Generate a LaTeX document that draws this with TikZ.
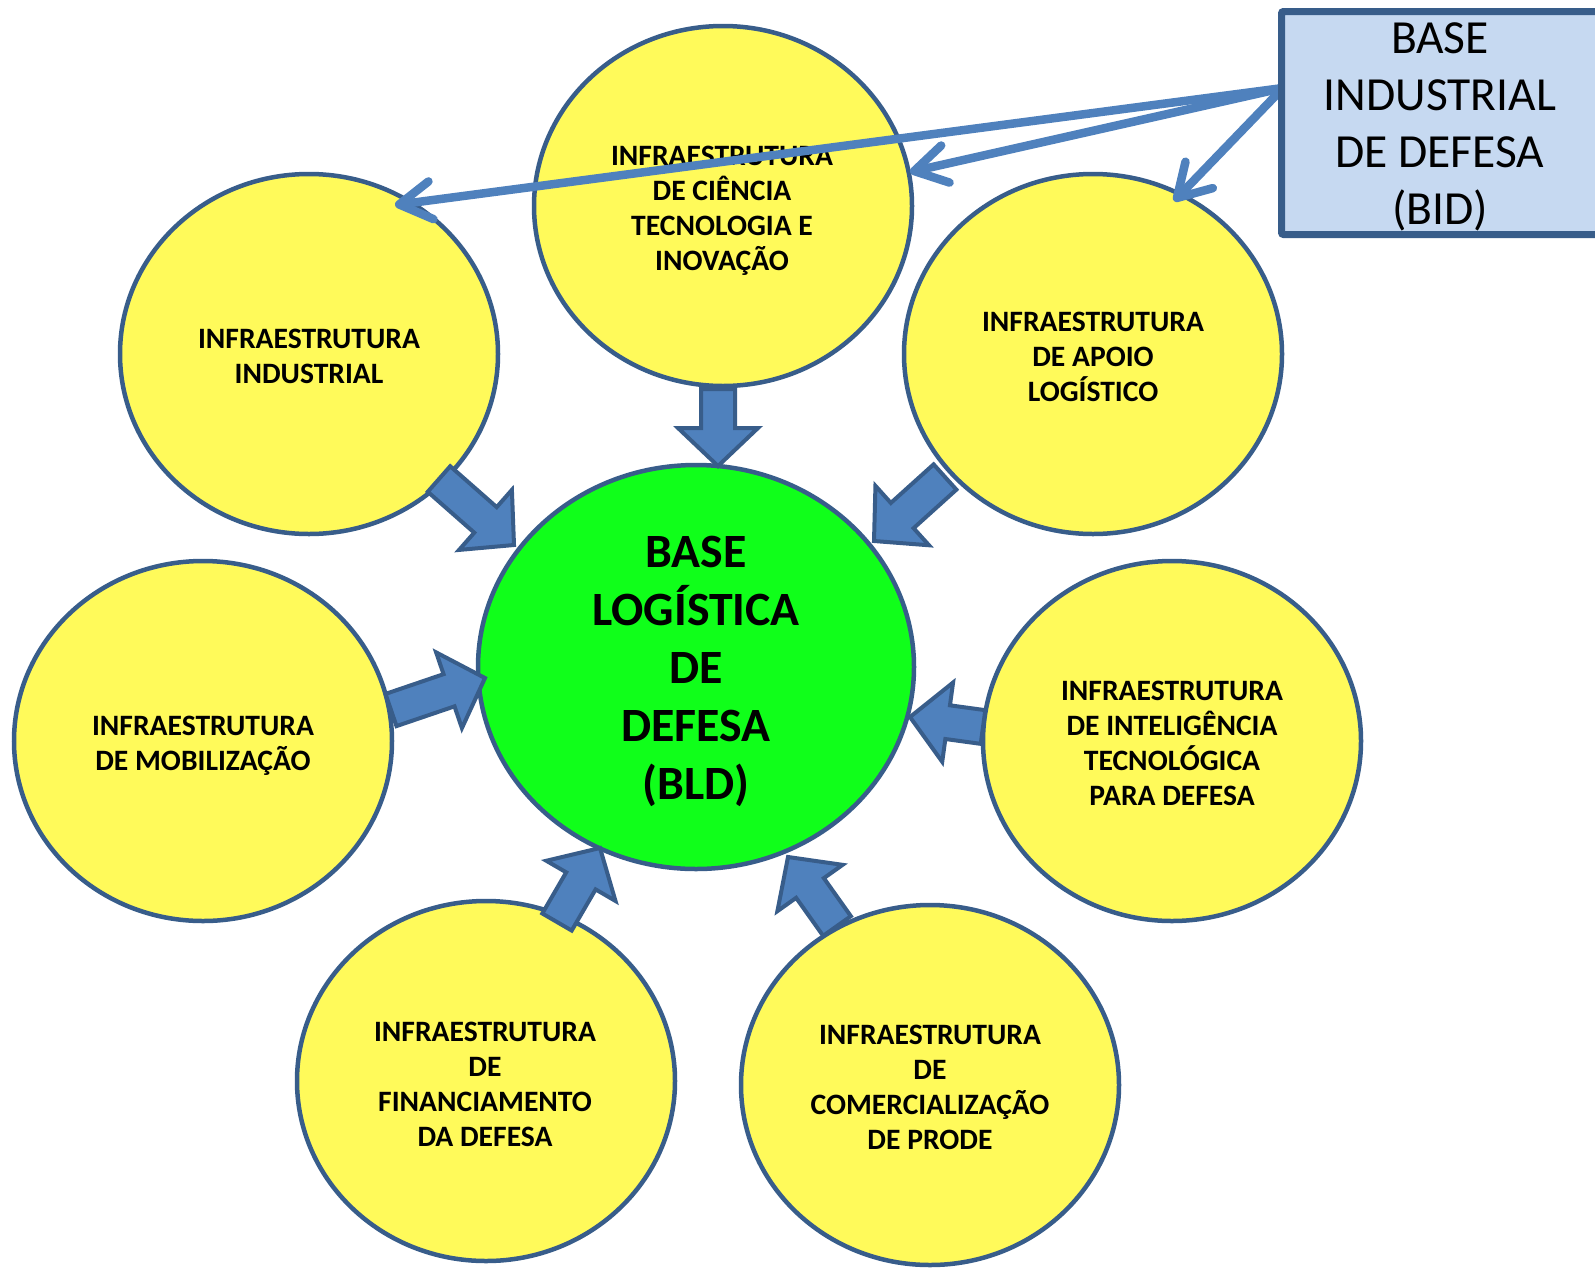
\documentclass[tikz,border=0pt]{standalone}
\usepackage{fontspec}
\setmainfont{Carlito}
\usetikzlibrary{shapes.geometric,arrows.meta,calc}
\definecolor{yel}{RGB}{255,250,90}
\definecolor{grn}{RGB}{16,255,26}
\definecolor{edgec}{RGB}{56,93,138}
\definecolor{arrc}{RGB}{79,129,189}
\definecolor{boxfill}{RGB}{198,217,241}
\newcommand\fatarrow[2]{%
  \path ($(#2)!38pt!(#1)$) coordinate (hb);
  \draw[fatstyle] ($(#1)!17pt!90:(#2)$) -- ($(hb)!17pt!90:(#2)$) -- ($(hb)!40pt!90:(#2)$)
    -- (#2) -- ($(hb)!40pt!-90:(#2)$) -- ($(hb)!17pt!-90:(#2)$) -- ($(#1)!17pt!-90:(#2)$) -- cycle;
}
\begin{document}
\begin{tikzpicture}[x=1pt,y=-1pt,
  yc/.style={ellipse, draw=edgec, line width=4.5pt, fill=yel, minimum width=378pt, minimum height=360pt, inner sep=0pt},
  gc/.style={ellipse, draw=edgec, line width=4.5pt, fill=grn, minimum width=436pt, minimum height=404pt, inner sep=0pt},
  lbl/.style={align=center, inner sep=0pt, font=\fontsize{29.6}{35}\selectfont\bfseries},
  biglbl/.style={align=center, inner sep=0pt, font=\fontsize{47.8}{58}\selectfont\bfseries},
  fatstyle/.style={fill=arrc, draw=edgec, line width=4pt, line join=miter},
  bidline/.style={draw=arrc, line width=8.5pt, line cap=round, -{Straight Barb[length=32pt,width=38pt,round]}}
]
\useasboundingbox (0,0) rectangle (1595,1267);
\fill[white] (0,0) rectangle (1595,1267);

% yellow circles
\node[yc] (cT) at (723,206) {};
\node[yc] (cI) at (309,354) {};
\node[yc] (cA) at (1093,354) {};
\node[yc] (cM) at (203,741) {};
\node[yc] (cN) at (1172,741) {};
\node[yc] (cF) at (486,1081) {};
\node[yc] (cC) at (930,1085) {};

\node[lbl] (tT) at (722,211) {INFRAESTRUTURA\\DE CIÊNCIA\\TECNOLOGIA E\\INOVAÇÃO};
\node[lbl] (tI) at (309,356.5) {INFRAESTRUTURA\\INDUSTRIAL};
\node[lbl] (tA) at (1093,356.5) {INFRAESTRUTURA\\DE APOIO\\LOGÍSTICO};
\node[lbl] (tM) at (203,746) {INFRAESTRUTURA\\DE MOBILIZAÇÃO};
\node[lbl] (tN) at (1172,743.5) {INFRAESTRUTURA\\DE INTELIGÊNCIA\\TECNOLÓGICA\\PARA DEFESA};
\node[lbl] (tF) at (485,1084.5) {INFRAESTRUTURA\\DE\\FINANCIAMENTO\\DA DEFESA};
\node[lbl] (tC) at (930,1087.5) {INFRAESTRUTURA\\DE\\COMERCIALIZAÇÃO\\DE PRODE};

% green centre
\node[gc] (bld) at (696,667) {};
\node[biglbl] (tB) at (696,671) {BASE\\LOGÍSTICA\\DE\\DEFESA\\(BLD)};

% block arrows
\coordinate (aT1) at (718,389);  \coordinate (aT2) at (718,466);
\coordinate (aI1) at (439,479);  \coordinate (aI2) at (514,545);
\coordinate (aA1) at (945,477);  \coordinate (aA2) at (874,541);
\coordinate (aM1) at (391,710);  \coordinate (aM2) at (485,678);
\coordinate (aN1) at (983,727);  \coordinate (aN2) at (910,717);
\coordinate (aF1) at (557,922);  \coordinate (aF2) at (600,848);
\coordinate (aC1) at (837,926);  \coordinate (aC2) at (788,857);
\fatarrow{aT1}{aT2}
\fatarrow{aI1}{aI2}
\fatarrow{aA1}{aA2}
\fatarrow{aM1}{aM2}
\fatarrow{aN1}{aN2}
\fatarrow{aF1}{aF2}
\fatarrow{aC1}{aC2}

% BID lines
\coordinate (o) at (1283,88);
\coordinate (pI) at (395,205);
\coordinate (pT) at (910,172);
\coordinate (pA) at (1174,201);
\draw[bidline] (o) -- (pI);
\draw[bidline] (o) -- (pT);
\draw[bidline] (o) -- (pA);

% BID box
\node[draw=edgec, fill=boxfill, line width=7pt, rounded corners=2pt, minimum width=320pt, minimum height=223pt, inner sep=0pt] (bid) at (1441.5,123) {};
\node[align=center, inner sep=0pt, font=\fontsize{47.5}{57}\selectfont] (tbid) at (1440,127) {BASE\\INDUSTRIAL\\DE DEFESA\\(BID)};
\end{tikzpicture}
\end{document}
